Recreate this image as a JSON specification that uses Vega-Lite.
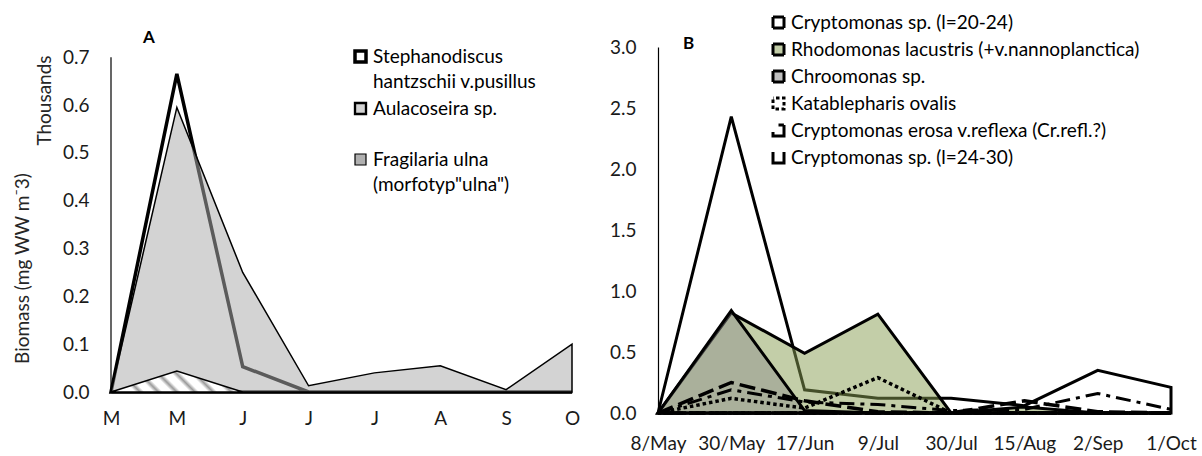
{
  "$schema": "https://vega.github.io/schema/vega-lite/v6.json",
  "background": "white",
  "padding": {"left": 13, "top": 13, "right": 0, "bottom": 0},
  "datasets": {
    "A": [
      {"date": "8/May", "steph": 0, "aul": 0, "frag": 0},
      {"date": "30/May", "steph": 0.665, "aul": 0.595, "frag": 0.044},
      {"date": "17/Jun", "steph": 0.053, "aul": 0.25, "frag": 0},
      {"date": "9/Jul", "steph": 0, "aul": 0.013, "frag": 0},
      {"date": "30/Jul", "steph": 0, "aul": 0.04, "frag": 0},
      {"date": "15/Aug", "steph": 0, "aul": 0.055, "frag": 0},
      {"date": "2/Sep", "steph": 0, "aul": 0.005, "frag": 0},
      {"date": "1/Oct", "steph": 0, "aul": 0.1, "frag": 0}
    ],
    "legA": [
      {"s": "Stephanodiscus|hantzschii v.pusillus"},
      {"s": "Aulacoseira sp.| "},
      {"s": "Fragilaria ulna|(morfotyp\"ulna\")"}
    ],
    "B": [
      {"date": "8/May", "c2024": 0, "rhodo": 0, "chroo": 0, "kata": 0, "erosa": 0, "c2430": 0},
      {"date": "30/May", "c2024": 2.43, "rhodo": 0.82, "chroo": 0.84, "kata": 0.12, "erosa": 0.19, "c2430": 0.25},
      {"date": "17/Jun", "c2024": 0.19, "rhodo": 0.49, "chroo": 0.02, "kata": 0.04, "erosa": 0.09, "c2430": 0.1},
      {"date": "9/Jul", "c2024": 0.12, "rhodo": 0.81, "chroo": 0, "kata": 0.29, "erosa": 0.07, "c2430": 0.01},
      {"date": "30/Jul", "c2024": 0.12, "rhodo": 0, "chroo": 0, "kata": 0, "erosa": 0.02, "c2430": 0},
      {"date": "15/Aug", "c2024": 0.06, "rhodo": 0.05, "chroo": 0, "kata": 0, "erosa": 0.03, "c2430": 0.1},
      {"date": "2/Sep", "c2024": 0.35, "rhodo": 0, "chroo": 0, "kata": 0, "erosa": 0.16, "c2430": 0.01},
      {"date": "1/Oct", "c2024": 0.21, "rhodo": 0, "chroo": 0, "kata": 0, "erosa": 0.03, "c2430": 0}
    ],
    "legB": [
      {"s": "Cryptomonas sp. (l=20-24)"},
      {"s": "Rhodomonas lacustris (+v.nannoplanctica)"},
      {"s": "Chroomonas sp."},
      {"s": "Katablepharis ovalis"},
      {"s": "Cryptomonas erosa v.reflexa (Cr.refl.?)"},
      {"s": "Cryptomonas sp. (l=24-30)"}
    ]
  },
  "spacing": 29,
  "resolve": {
    "scale": {"fill": "independent", "strokeWidth": "independent", "strokeDash": "independent"},
    "legend": {"fill": "independent", "strokeWidth": "independent", "strokeDash": "independent"}
  },
  "hconcat": [
    {
      "width": 461,
      "height": 345,
      "title": {"text": "A", "anchor": "start", "frame": "group", "dx": 32, "offset": 0, "fontSize": 17, "font": "Lato", "fontWeight": "bold", "color": "black"},
      "resolve": {"axis": {"y": "independent"}},
      "layer": [
        {
          "data": {"name": "A"},
          "mark": {"type": "area", "fill": "white", "stroke": "black", "strokeWidth": 3.5, "strokeJoin": "miter"},
          "encoding": {
            "x": {"field": "date", "type": "nominal",
              "scale": {"type": "point", "padding": 0, "domain": ["8/May", "30/May", "17/Jun", "9/Jul", "30/Jul", "15/Aug", "2/Sep", "1/Oct"]},
              "axis": {"title": null, "labelAngle": 0, "ticks": false, "tickSize": 0, "domain": true, "domainColor": "#6f6f6f", "domainWidth": 2, "labelPadding": 17, "labelFont": "Lato", "labelFontSize": 19, "labelColor": "#1a1a1a",
                "labelExpr": "slice(datum.label, indexof(datum.label, '/') + 1, indexof(datum.label, '/') + 2)"}},
            "y": {"field": "steph", "type": "quantitative", "stack": null,
              "scale": {"domain": [0, 0.7214], "nice": false, "zero": true},
              "axis": {"orient": "left", "values": [0, 0.1, 0.2, 0.3, 0.4, 0.5, 0.6, 0.7], "format": ".1f", "ticks": false, "tickSize": 0, "domain": false, "grid": false, "labelPadding": 22, "labelFont": "Lato", "labelFontSize": 19, "labelColor": "#1a1a1a",
                "title": "Thousands", "titleFont": "Lato", "titleFontSize": 19, "titleFontWeight": "normal", "titleColor": "#262626", "titleX": -67, "titleY": 53, "titleAngle": -90, "titleAlign": "center", "titleBaseline": "middle"}}
          }
        },
        {
          "data": {"name": "A"},
          "mark": {"type": "area", "fill": "#ababab", "fillOpacity": 0.53, "stroke": "black", "strokeWidth": 1.5, "strokeJoin": "miter"},
          "encoding": {
            "x": {"field": "date", "type": "nominal"},
            "y": {"field": "aul", "type": "quantitative", "stack": null, "axis": null}
          }
        },
        {
          "data": {"name": "A"},
          "transform": [{"filter": {"field": "date", "oneOf": ["8/May", "30/May", "17/Jun"]}}],
          "mark": {"type": "area", "stroke": "black", "strokeWidth": 1.5, "strokeJoin": "miter",
            "fill": {"gradient": "linear", "x1": 0, "y1": 0.16, "x2": 1, "y2": 0, "stops": [
              {"offset": 0, "color": "white"}, {"offset": 0.05, "color": "white"}, {"offset": 0.085, "color": "#9a9a9a"}, {"offset": 0.12, "color": "white"},
              {"offset": 0.185, "color": "white"}, {"offset": 0.22, "color": "#9a9a9a"}, {"offset": 0.255, "color": "white"},
              {"offset": 0.32, "color": "white"}, {"offset": 0.355, "color": "#9a9a9a"}, {"offset": 0.39, "color": "white"},
              {"offset": 0.455, "color": "white"}, {"offset": 0.49, "color": "#9a9a9a"}, {"offset": 0.525, "color": "white"},
              {"offset": 0.59, "color": "white"}, {"offset": 0.625, "color": "#9a9a9a"}, {"offset": 0.66, "color": "white"},
              {"offset": 0.725, "color": "white"}, {"offset": 0.76, "color": "#9a9a9a"}, {"offset": 0.795, "color": "white"},
              {"offset": 0.86, "color": "white"}, {"offset": 0.895, "color": "#9a9a9a"}, {"offset": 0.93, "color": "white"},
              {"offset": 1, "color": "white"}]}},
          "encoding": {
            "x": {"field": "date", "type": "nominal"},
            "y": {"field": "frag", "type": "quantitative", "stack": null, "axis": null}
          }
        },
        {
          "data": {"name": "A"},
          "transform": [{"filter": {"field": "date", "equal": "8/May"}}],
          "mark": {"type": "rule", "color": "black", "strokeWidth": 1.2},
          "encoding": {
            "x": {"field": "date", "type": "nominal"},
            "y": {"datum": 0, "type": "quantitative",
              "axis": {"orient": "left", "labels": false, "ticks": false, "domain": false, "grid": false,
                "title": "Biomass (mg WW m\u207B3)", "titleFont": "Lato", "titleFontSize": 19, "titleFontWeight": "normal", "titleColor": "#262626", "titleX": -89, "titleY": 221, "titleAngle": -90, "titleAlign": "center", "titleBaseline": "middle"}},
            "y2": {"datum": 0.7}
          }
        },
        {
          "data": {"name": "legA"},
          "mark": {"type": "point", "shape": "square", "filled": true, "opacity": 0, "stroke": "black"},
          "encoding": {
            "fill": {"field": "s", "type": "nominal",
              "scale": {"domain": ["Stephanodiscus|hantzschii v.pusillus", "Aulacoseira sp.| ", "Fragilaria ulna|(morfotyp\"ulna\")"], "range": ["white", "#d3d3d3", "#b0b0b0"]},
              "legend": {"orient": "none", "legendX": 240, "legendY": 0, "title": null, "symbolType": "square", "symbolSize": 121, "symbolOpacity": 1, "symbolStrokeColor": "black", "labelFont": "Lato", "labelFontSize": 19, "labelColor": "black", "labelLimit": 600, "labelOffset": 3, "rowPadding": 6, "padding": 0,
                "labelExpr": "split(datum.label, '|')"}},
            "strokeWidth": {"field": "s", "type": "ordinal",
              "scale": {"domain": ["Stephanodiscus|hantzschii v.pusillus", "Aulacoseira sp.| ", "Fragilaria ulna|(morfotyp\"ulna\")"], "range": [3.5, 1.2, 1.2]},
              "legend": {"symbolFillColor": "white", "symbolOpacity": 1}}
          }
        }
      ]
    },
    {
      "width": 513,
      "height": 366,
      "title": {"text": "B", "anchor": "start", "frame": "group", "dx": 25, "offset": -39.5, "fontSize": 17, "font": "Lato", "fontWeight": "bold", "color": "black"},
      "layer": [
        {
          "data": {"name": "B"},
          "mark": {"type": "area", "fill": "white", "stroke": "black", "strokeWidth": 3, "strokeJoin": "miter"},
          "encoding": {
            "x": {"field": "date", "type": "nominal",
              "scale": {"type": "point", "padding": 0, "domain": ["8/May", "30/May", "17/Jun", "9/Jul", "30/Jul", "15/Aug", "2/Sep", "1/Oct"]},
              "axis": {"title": null, "labelAngle": 0, "ticks": false, "tickSize": 0, "domain": true, "domainColor": "#6f6f6f", "domainWidth": 2, "labelPadding": 21, "labelFont": "Lato", "labelFontSize": 19, "labelColor": "#1a1a1a"}},
            "y": {"field": "c2024", "type": "quantitative", "stack": null,
              "scale": {"domain": [0, 3], "nice": false, "zero": true},
              "axis": {"values": [0, 0.5, 1, 1.5, 2, 2.5, 3], "format": ".1f", "ticks": false, "tickSize": 0, "domain": true, "domainColor": "black", "domainWidth": 1.2, "grid": false, "labelPadding": 22, "labelFont": "Lato", "labelFontSize": 19, "labelColor": "#1a1a1a", "title": null}}
          }
        },
        {
          "data": {"name": "B"},
          "mark": {"type": "area", "fill": "#879d51", "fillOpacity": 0.5, "stroke": "black", "strokeWidth": 3, "strokeJoin": "miter"},
          "encoding": {
            "x": {"field": "date", "type": "nominal"},
            "y": {"field": "rhodo", "type": "quantitative", "stack": null}
          }
        },
        {
          "data": {"name": "B"},
          "mark": {"type": "area", "fill": "#8c8c8c", "fillOpacity": 0.45, "stroke": "black", "strokeWidth": 3, "strokeJoin": "miter"},
          "encoding": {
            "x": {"field": "date", "type": "nominal"},
            "y": {"field": "chroo", "type": "quantitative", "stack": null}
          }
        },
        {
          "data": {"name": "B"},
          "mark": {"type": "area", "fillOpacity": 0, "stroke": "black", "strokeWidth": 3.5, "strokeDash": [3.5, 3], "strokeJoin": "miter"},
          "encoding": {
            "x": {"field": "date", "type": "nominal"},
            "y": {"field": "kata", "type": "quantitative", "stack": null}
          }
        },
        {
          "data": {"name": "B"},
          "mark": {"type": "area", "fillOpacity": 0, "stroke": "black", "strokeWidth": 3, "strokeDash": [15, 6, 4, 6], "strokeJoin": "miter"},
          "encoding": {
            "x": {"field": "date", "type": "nominal"},
            "y": {"field": "erosa", "type": "quantitative", "stack": null}
          }
        },
        {
          "data": {"name": "B"},
          "mark": {"type": "area", "fillOpacity": 0, "stroke": "black", "strokeWidth": 3.5, "strokeDash": [16, 6], "strokeJoin": "miter"},
          "encoding": {
            "x": {"field": "date", "type": "nominal"},
            "y": {"field": "c2430", "type": "quantitative", "stack": null}
          }
        },
        {
          "data": {"name": "legB"},
          "mark": {"type": "point", "shape": "square", "filled": true, "opacity": 0, "stroke": "black", "strokeWidth": 3},
          "encoding": {
            "fill": {"field": "s", "type": "nominal",
              "scale": {"domain": ["Cryptomonas sp. (l=20-24)", "Rhodomonas lacustris (+v.nannoplanctica)", "Chroomonas sp.", "Katablepharis ovalis", "Cryptomonas erosa v.reflexa (Cr.refl.?)", "Cryptomonas sp. (l=24-30)"],
                "range": ["white", "#c3cea8", "#bfbfbf", "white", "white", "white"]},
              "legend": {"orient": "none", "legendX": 111, "legendY": -34, "title": null, "symbolType": "square", "symbolSize": 121, "symbolOpacity": 1, "symbolStrokeColor": "black", "symbolStrokeWidth": 3, "symbolDashOffset": 33, "labelFont": "Lato", "labelFontSize": 19, "labelColor": "black", "labelLimit": 600, "labelOffset": 3, "rowPadding": 4, "padding": 0}},
            "strokeDash": {"field": "s", "type": "nominal",
              "scale": {"domain": ["Cryptomonas sp. (l=20-24)", "Rhodomonas lacustris (+v.nannoplanctica)", "Chroomonas sp.", "Katablepharis ovalis", "Cryptomonas erosa v.reflexa (Cr.refl.?)", "Cryptomonas sp. (l=24-30)"],
                "range": [[1, 0], [1, 0], [1, 0], [3.5, 2.5], [26, 12.5, 5.4, 0.1], [33, 11]]},
              "legend": {"symbolFillColor": "white", "symbolOpacity": 1}}
          }
        }
      ]
    }
  ],
  "config": {
    "view": {"stroke": null},
    "font": "Lato",
    "style": {"guide-label": {"lineHeight": 25}}
  }
}
